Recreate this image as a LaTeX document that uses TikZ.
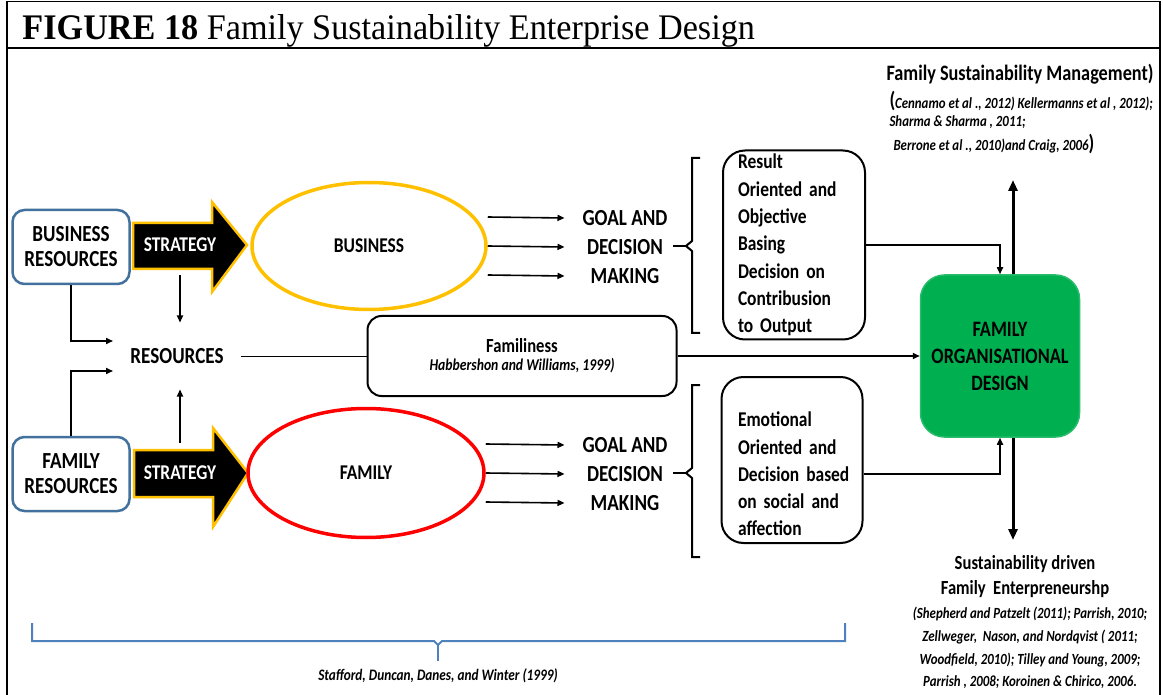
\documentclass[tikz,border=0pt]{standalone}
\usepackage{fontspec}
\usepackage{tikz}
\usetikzlibrary{arrows.meta,shapes.geometric}
\setmainfont{Carlito}[FakeStretch=0.83]
\newfontfamily\titlefont{Liberation Serif}[FakeStretch=0.95]
\definecolor{boxblue}{HTML}{41719C}
\definecolor{goldline}{HTML}{FFC000}
\definecolor{famred}{HTML}{FF0000}
\definecolor{orggreen}{HTML}{00B050}
\definecolor{braceblue}{HTML}{4F81BD}

\begin{document}
\begin{tikzpicture}[x=1pt, y=-1pt, line width=1pt,
  resbox/.style={draw=boxblue, line width=2.5pt, rounded corners=12pt, minimum width=117pt, minimum height=74pt, align=center, inner sep=0pt, font=\fontsize{23}{25}\selectfont\bfseries},
  stratshape/.style={fill=black, draw=goldline, line width=2.5pt, line join=miter},
  strattext/.style={text=white, minimum height=60pt, inner sep=0pt, font=\fontsize{21}{23}\selectfont\bfseries},
  bigtext/.style={font=\fontsize{23}{25}\selectfont\bfseries},
  goaltext/.style={align=center, minimum width=120pt, inner sep=0pt, font=\fontsize{23}{29.3}\selectfont\bfseries},
  oval/.style={ellipse, line width=3.5pt, inner sep=0pt, font=\fontsize{21}{23}\selectfont\bfseries},
  roundbox/.style={draw, line width=2pt, rounded corners=22pt},
  listtext/.style={align=left, text width=112pt, inner xsep=15pt, font=\fontsize{21}{27.3}\selectfont\bfseries},
  citetext/.style={font=\fontsize{15.5}{17}\selectfont\bfseries\itshape},
  conn/.style={-{Triangle[length=7pt,width=6pt]}, line width=1.6pt},
  bigarrow/.style={-{Triangle[length=11pt,width=9pt]}, line width=3pt},
  brace/.style={line width=2pt},
  bluebrace/.style={draw=braceblue, line width=2pt}]
\useasboundingbox (0,0) rectangle (1163,695);

\draw[line width=1.5pt] (7,695) -- (7,1.5) -- (1160,1.5) -- (1160,695);
\draw[line width=2pt] (7,48) -- (1160,48);
\node[anchor=base west, inner sep=0pt] (title) at (22,40) {\titlefont\fontsize{36}{40}\selectfont\textbf{FIGURE 18} Family Sustainability Enterprise Design};

\node[resbox] (busres) at (71,247) {BUSINESS\\RESOURCES};
\node[resbox] (famres) at (71,474) {FAMILY\\RESOURCES};

\draw[stratshape] (133,223) -- (212,223) -- (212,202) -- (247,245) -- (212,292) -- (212,269) -- (133,269) -- cycle;
\node[strattext] (stratA) at (180,245) {STRATEGY};
\draw[stratshape] (134,450) -- (213,450) -- (213,428) -- (248,473) -- (213,527) -- (213,497) -- (134,497) -- cycle;
\node[strattext] (stratB) at (180,473) {STRATEGY};

\node[bigtext, minimum width=126pt, minimum height=66pt, inner sep=0pt] (res) at (177,356) {RESOURCES};

\coordinate (resinA) at (113,341);
\coordinate (resinB) at (113,371);
\draw[conn] (busres.south) |- (resinA);
\draw[conn] (famres.north) |- (resinB);
\draw[conn] (stratA.south) -- (stratA.south |- res.north);
\draw[conn] (stratB.north) -- (stratB.north |- res.south);

\node[oval, draw=goldline, minimum width=234pt, minimum height=127pt] (bus) at (369,246) {BUSINESS};
\node[oval, draw=famred, minimum width=236pt, minimum height=129pt] (fam) at (366,473) {FAMILY};

\node[goaltext] (goalA) at (625,247) {GOAL AND\\DECISION\\MAKING};
\node[goaltext] (goalB) at (625,474) {GOAL AND\\DECISION\\MAKING};
\foreach \dy in {29,0,-29} {
  \draw[conn] ([yshift=\dy pt]bus.east) -- ([yshift=\dy pt]goalA.west);
  \draw[conn] ([yshift=\dy pt]fam.east) -- ([yshift=\dy pt]goalB.west);
}

\draw[brace] (700,158) -- (692,158) -- (692,241) -- (686,246) -- (692,251) -- (692,333) -- (700,333);
\draw[brace] (673,246) -- (686,246);
\draw[brace] (700,385) -- (692,385) -- (692,468) -- (686,473) -- (692,478) -- (692,557) -- (700,557);
\draw[brace] (673,473) -- (686,473);

\node[roundbox, listtext, minimum height=189pt] (result) at (794,245) {Result\\Oriented and\\Objective\\Basing\\Decision on\\Contribusion\\to Output};
\node[roundbox, minimum width=141pt, minimum height=166pt] (emobox) at (792,460) {};
\node[listtext, inner xsep=0pt] (emotext) at (794,474) {Emotional\\Oriented and\\Decision based\\on social and\\affection};

\node[draw, line width=2pt, rounded corners=14pt, minimum width=309pt, minimum height=80pt, align=center, inner sep=0pt] (famly) at (522,356) {\fontsize{20}{22}\selectfont\bfseries Familiness\\[5pt]{\fontsize{16.5}{18}\selectfont\bfseries\itshape Habbershon and Williams, 1999)}};

\node[fill=orggreen, draw=orggreen!85!white, line width=1.5pt, rounded corners=24pt, minimum width=159pt, minimum height=162pt, align=center, inner sep=0pt, font=\fontsize{22}{27}\selectfont\bfseries] (org) at (1000,356) {FAMILY\\ORGANISATIONAL\\DESIGN};

\draw (res.east) -- (famly.west);
\draw[conn] (famly.east) -- (org.west);
\draw[conn] (result.east) -| (org.north);
\draw[conn] (emobox.east |- emotext) -| (org.south);

\coordinate (upend) at (1013,180);
\coordinate (downend) at (1013,540);
\draw[bigarrow] ([xshift=13pt]org.north) -- (upend);
\draw[bigarrow] ([xshift=13pt]org.south) -- (downend);

\node[inner sep=0pt, font=\fontsize{22}{24}\selectfont\bfseries] (fsm) at (1020,74) {Family Sustainability Management)};
\node[citetext, anchor=west, inner sep=0pt] (citeA) at (889,101) {\raisebox{1.5pt}{\upshape\fontsize{22}{22}\selectfont(}Cennamo et al ., 2012) Kellermanns et al , 2012);};
\node[citetext, anchor=west, inner sep=0pt] (citeB) at (889,122) {Sharma \& Sharma , 2011;};
\node[citetext, anchor=west, inner sep=0pt] (citeC) at (893,144) {Berrone et al ., 2010)and Craig, 2006{\upshape\fontsize{22}{22}\selectfont)}};

\node[align=center, inner sep=0pt, font=\fontsize{20}{25}\selectfont\bfseries] (sdfe) at (1025,577) {Sustainability driven\\Family\ \ Enterpreneurshp};
\node[align=center, inner sep=0pt, font=\fontsize{15.5}{22.7}\selectfont\bfseries\itshape] (sdfecite) at (1030,648) {(Shepherd and Patzelt (2011); Parrish, 2010;\\Zellweger,\ \ Nason, and Nordqvist ( 2011;\\Woodfield, 2010); Tilley and Young, 2009;\\Parrish , 2008; Koroinen \& Chirico, 2006.};

\draw[bluebrace] (32,623) -- (32,641) -- (434,641) -- (438,645) -- (442,641) -- (845,641) -- (845,623);
\draw[bluebrace] (438,645) -- (438,661);
\node[citetext, font=\fontsize{16}{18}\selectfont\bfseries\itshape] (staff) at (438,676) {Stafford, Duncan, Danes, and Winter (1999)};
\end{tikzpicture}
\end{document}
